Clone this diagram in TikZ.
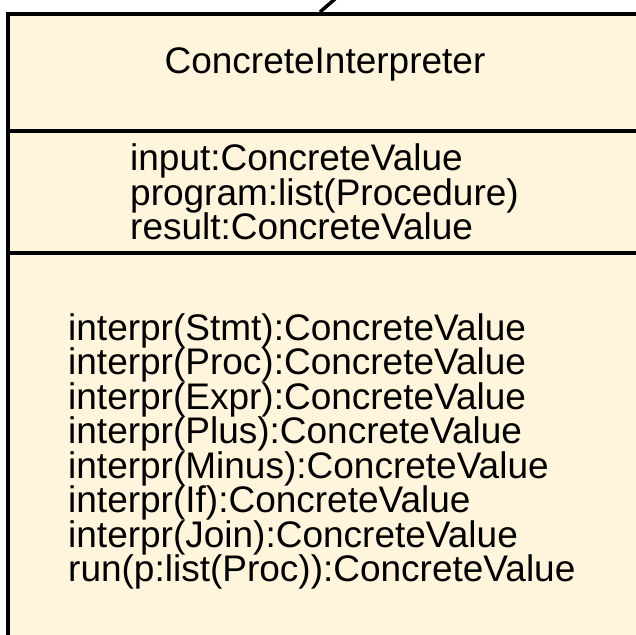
\documentclass[tikz,border=0pt]{standalone}
\usepackage{fontspec}
\setmainfont{Liberation Sans}
\definecolor{classfill}{HTML}{FFF5DC}
\tikzset{
  classbox/.style={draw=black, fill=classfill, line width=4pt, rectangle,
    minimum width=660pt, minimum height=660pt, anchor=north west, inner sep=0pt},
  divider/.style={draw=black, line width=4pt},
  assoc/.style={draw=black, line width=3.5pt},
  member/.style={font=\fontsize{37pt}{34.5pt}\selectfont, align=left,
    anchor=base west, inner sep=0pt, text=black},
  classname/.style={font=\fontsize{37pt}{34.5pt}\selectfont, anchor=base,
    inner sep=0pt, text=black}
}
\begin{document}
\begin{tikzpicture}[x=1pt,y=-1pt]
  \useasboundingbox (0,0) rectangle (636,634);
  \clip (0,0) rectangle (636,634);
  % class compartment frame
  \node[classbox] (cls) at (6,12) {};
  % association line leaving the top edge
  \coordinate (assocfoot) at (320,12);
  \coordinate (assochead) at (343,-8);
  \draw[assoc] (assocfoot) -- (assochead);
  % compartment separators
  \coordinate (sepA) at (6,131);
  \coordinate (sepB) at (6,253);
  \draw[divider] (sepA) -- (sepA -| cls.east);
  \draw[divider] (sepB) -- (sepB -| cls.east);
  % class name
  \node[classname] (name) at (325,73) {ConcreteInterpreter};
  % attributes (anchored on the baseline of the last line)
  \node[member] (attrs) at (130,239.5) {input:ConcreteValue\\
    program:list(Procedure)\\
    result:ConcreteValue};
  % operations (anchored on the baseline of the last line)
  \node[member] (ops) at (68,581.5) {interpr(Stmt):ConcreteValue\\
    interpr(Proc):ConcreteValue\\
    interpr(Expr):ConcreteValue\\
    interpr(Plus):ConcreteValue\\
    interpr(Minus):ConcreteValue\\
    interpr(If):ConcreteValue\\
    interpr(Join):ConcreteValue\\
    run(p:list(Proc)):ConcreteValue};
\end{tikzpicture}
\end{document}
